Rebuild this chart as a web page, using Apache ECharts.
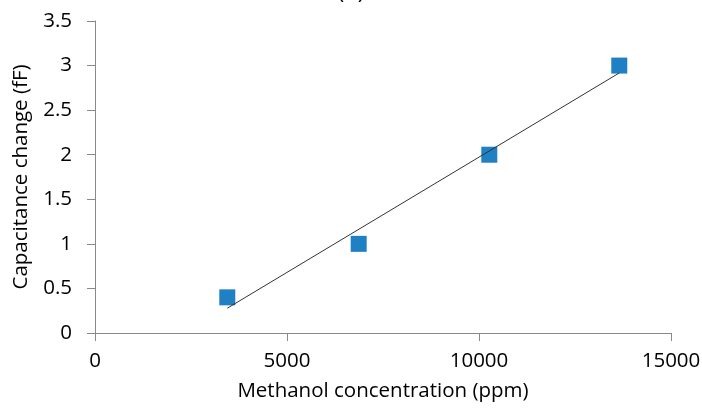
<!DOCTYPE html>
<html>
<head>
<meta charset="utf-8">
<script src="https://cdn.jsdelivr.net/npm/echarts@6/dist/echarts.min.js"></script>
<style>html,body{margin:0;padding:0;background:#fff}#c{width:702px;height:414px}</style>
</head>
<body>
<div id="c"></div>
<script>
var concentration = [3445, 6867, 10268, 13653];
var capChange = [0.4, 1.0, 2.0, 3.0];
var xTicks = [0, 5000, 10000, 15000];
var yTicks = [0, 0.5, 1, 1.5, 2, 2.5, 3, 3.5];

// linear least-squares trendline from the data
var n = concentration.length, mx = 0, my = 0;
for (var i = 0; i < n; i++) { mx += concentration[i]; my += capChange[i]; }
mx /= n; my /= n;
var sxx = 0, sxy = 0;
for (var i = 0; i < n; i++) { sxx += (concentration[i]-mx)*(concentration[i]-mx); sxy += (concentration[i]-mx)*(capChange[i]-my); }
var slope = sxy / sxx, icpt = my - slope * mx;
var x0 = concentration[0], x1 = concentration[n-1];
var trend = [[x0, icpt + slope*x0], [x1, icpt + slope*x1]];

var font = 'Open Sans';
var fs = 20.5;
var chart = echarts.init(document.getElementById('c'), null, {renderer: 'canvas'});
chart.setOption({
  animation: false,
  title: {text: '(b)', left: 'center', top: -23, textStyle: {fontFamily: font, fontSize: 22, fontWeight: 'normal', color: '#000'}},
  grid: {left: 95, right: 31, top: 21, bottom: 81, containLabel: false, outerBoundsMode: 'none'},
  xAxis: {
    type: 'value', min: 0, max: 15000, interval: 5000,
    name: 'Methanol concentration (ppm)', nameLocation: 'middle', nameGap: 48,
    nameTextStyle: {fontFamily: font, fontSize: fs, color: '#000'},
    axisLine: {show: true, lineStyle: {color: '#898989', width: 1}},
    axisTick: {show: true, length: 8, lineStyle: {color: '#898989'}},
    axisLabel: {fontFamily: font, fontSize: fs, color: '#000', margin: 18,
      formatter: function(v){ return String(v); }},
    splitLine: {show: false}
  },
  yAxis: {
    type: 'value', min: 0, max: 3.5, interval: 0.5,
    name: 'Capacitance change (fF)', nameLocation: 'middle', nameGap: 63, nameRotate: 90,
    nameTextStyle: {fontFamily: font, fontSize: fs, color: '#000'},
    axisLine: {show: true, lineStyle: {color: '#898989', width: 1}},
    axisTick: {show: true, length: 8, lineStyle: {color: '#898989'}},
    axisLabel: {fontFamily: font, fontSize: fs, color: '#000', margin: 23},
    splitLine: {show: false}
  },
  series: [
    {type: 'line', data: trend, symbol: 'none', lineStyle: {color: '#333', width: 1}, z: 3},
    {type: 'scatter', data: concentration.map(function(x, i){ return [x, capChange[i]]; }),
     symbol: 'rect', symbolSize: 16, itemStyle: {color: '#2080c4', opacity: 1}, z: 2}
  ]
});
</script>
</body>
</html>
